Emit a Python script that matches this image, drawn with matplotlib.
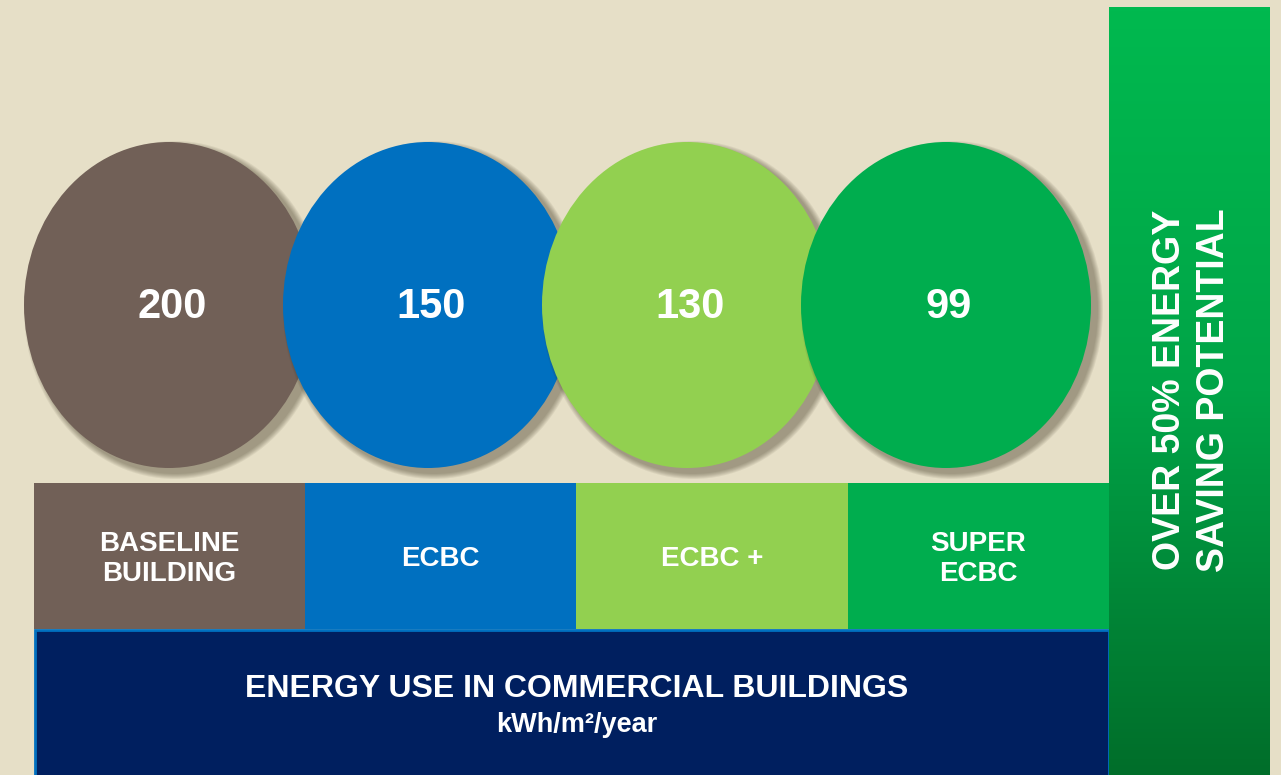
import numpy as np
import matplotlib
matplotlib.use('Agg')
import matplotlib.pyplot as plt
from matplotlib.patches import Ellipse, Rectangle
from matplotlib.colors import LinearSegmentedColormap

# Chart data
values = [200, 150, 130, 99]
categories = ["BASELINE\nBUILDING", "ECBC", "ECBC +", "SUPER\nECBC"]
colors = ["#716057", "#0070C0", "#92D050", "#00AD4E"]

title = "ENERGY USE IN COMMERCIAL BUILDINGS"
unit = "kWh/m\u00b2/year"
side_text = "OVER 50% ENERGY\nSAVING POTENTIAL"

plt.rcParams['font.family'] = ['Liberation Sans', 'DejaVu Sans']

fig = plt.figure(figsize=(12.81, 7.75), dpi=100)
fig.patch.set_facecolor("#E6DFC7")
ax = fig.add_axes([0, 0, 1, 1])
ax.set_xlim(0, 1281)
ax.set_ylim(775, 0)
ax.axis("off")

# circles with soft shadow
step = 259
x0 = 169
for i, (v, c) in enumerate(zip(values, colors)):
    cx = x0 + i * step
    cy = 305
    for k in range(6):
        grow = 12 - 2 * k
        ax.add_patch(Ellipse((cx + 6, cy + 5), 290 + grow, 326 + grow,
                             color="#3A3020", alpha=0.08, lw=0, zorder=2 + i * 2))
    ax.add_patch(Ellipse((cx, cy), 290, 326, color=c, lw=0, zorder=3 + i * 2))
    ax.text(cx + 3, cy + 2, str(v), color="white", fontsize=30, fontweight="bold",
            ha="center", va="center", zorder=20)

# category boxes
bx = [34, 305, 576, 848, 1109]
for i, (lab, c) in enumerate(zip(categories, colors)):
    ax.add_patch(Rectangle((bx[i], 483), bx[i + 1] - bx[i], 146, color=c, lw=0, zorder=10))
    ax.text((bx[i] + bx[i + 1]) / 2, 559, lab, color="white", fontsize=20,
            fontweight="bold", ha="center", va="center", linespacing=1.2, zorder=20)

# bottom band
ax.add_patch(Rectangle((35, 630), 1074, 150, facecolor="#001F5F",
                       edgecolor="#0070C0", lw=2, zorder=11))
ax.text(577, 689, title, color="white", fontsize=23, fontweight="bold",
        ha="center", va="center", zorder=20)
ax.text(577, 725, unit, color="white", fontsize=19.5, fontweight="bold",
        ha="center", va="center", zorder=20)

# right gradient bar
cmap = LinearSegmentedColormap.from_list("g", ["#00B94F", "#00A447", "#006E2A"])
grad = np.linspace(0, 1, 256).reshape(-1, 1)
ax.imshow(grad, cmap=cmap, aspect="auto", extent=(1109, 1270, 775, 7), zorder=12)
ax.set_xlim(0, 1281)
ax.set_ylim(775, 0)
ax.text(1192, 390, side_text, color="white", fontsize=27, fontweight="bold",
        rotation=90, ha="center", va="center", linespacing=1.3, zorder=20)

fig.savefig("out.png", dpi=100, facecolor=fig.get_facecolor())
